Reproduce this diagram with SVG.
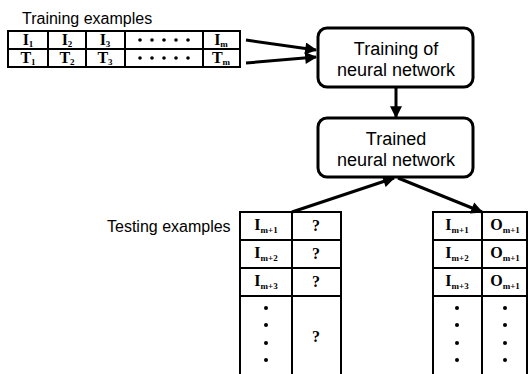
<svg xmlns="http://www.w3.org/2000/svg" width="529" height="374" viewBox="0 0 529 374">
<style>
.lbl{font-family:"Liberation Sans",Arial,sans-serif;font-size:16px;fill:#000}
.box{fill:#fff;stroke:#000;stroke-width:3}
.bt{font-family:"Liberation Sans",Arial,sans-serif;font-size:18px;fill:#000;text-anchor:middle}
.grid{fill:none;stroke:#000;stroke-width:2}
.cell{font-family:"Liberation Serif","Times New Roman",serif;font-weight:bold;font-size:16px;fill:#000;text-anchor:middle}
.sub{font-size:9px}
.dot{fill:#000}
.conn{stroke:#000;stroke-width:3;fill:none;marker-end:url(#ah)}
</style>
<defs>
<marker id="ah" viewBox="0 0 10 10" refX="9" refY="5" markerWidth="4.5" markerHeight="4" orient="auto" markerUnits="strokeWidth">
<path d="M0,0 L10,5 L0,10 z" fill="#000"/>
</marker>
</defs>
<rect width="529" height="374" fill="#fff"/>

<g id="training-examples">
<text class="lbl" x="22" y="24">Training examples</text>
<rect class="grid" x="8" y="31" width="232" height="36"/>
<line class="grid" x1="8" y1="49" x2="240" y2="49"/>
<line class="grid" x1="48" y1="31" x2="48" y2="67"/>
<line class="grid" x1="86" y1="31" x2="86" y2="67"/>
<line class="grid" x1="125" y1="31" x2="125" y2="67"/>
<line class="grid" x1="203" y1="31" x2="203" y2="67"/>
<text class="cell" x="28" y="45">I<tspan class="sub" dy="2">1</tspan></text>
<text class="cell" x="67" y="45">I<tspan class="sub" dy="2">2</tspan></text>
<text class="cell" x="105" y="45">I<tspan class="sub" dy="2">3</tspan></text>
<text class="cell" x="221" y="45">I<tspan class="sub" dy="2">m</tspan></text>
<text class="cell" x="28" y="63">T<tspan class="sub" dy="2">1</tspan></text>
<text class="cell" x="67" y="63">T<tspan class="sub" dy="2">2</tspan></text>
<text class="cell" x="105" y="63">T<tspan class="sub" dy="2">3</tspan></text>
<text class="cell" x="221" y="63">T<tspan class="sub" dy="2">m</tspan></text>
<g class="dot">
<circle cx="140" cy="40" r="1.8"/><circle cx="152" cy="40" r="1.8"/><circle cx="164" cy="40" r="1.8"/><circle cx="176" cy="40" r="1.8"/><circle cx="188" cy="40" r="1.8"/>
<circle cx="140" cy="58" r="1.8"/><circle cx="152" cy="58" r="1.8"/><circle cx="164" cy="58" r="1.8"/><circle cx="176" cy="58" r="1.8"/><circle cx="188" cy="58" r="1.8"/>
</g>
</g>

<g id="training-node">
<rect class="box" x="318" y="28" width="155" height="59" rx="9"/>
<text class="bt" x="396" y="55">Training of</text>
<text class="bt" x="396" y="76">neural network</text>
</g>

<g id="trained-node">
<rect class="box" x="318" y="118" width="155" height="59" rx="9"/>
<text class="bt" x="396" y="145">Trained</text>
<text class="bt" x="396" y="166">neural network</text>
</g>

<g id="testing-examples">
<text class="lbl" x="107" y="232">Testing examples</text>
<polyline class="grid" points="240,374 240,212 341,212 341,374"/>
<line class="grid" x1="292" y1="212" x2="292" y2="374"/>
<line class="grid" x1="240" y1="240" x2="341" y2="240"/>
<line class="grid" x1="240" y1="268" x2="341" y2="268"/>
<line class="grid" x1="240" y1="296" x2="341" y2="296"/>
<text class="cell" x="266" y="230">I<tspan class="sub" dy="3">m+1</tspan></text>
<text class="cell" x="266" y="258">I<tspan class="sub" dy="3">m+2</tspan></text>
<text class="cell" x="266" y="286">I<tspan class="sub" dy="3">m+3</tspan></text>
<text class="cell" x="316" y="231">?</text>
<text class="cell" x="316" y="259">?</text>
<text class="cell" x="316" y="287">?</text>
<text class="cell" x="316" y="342">?</text>
<g class="dot">
<circle cx="266" cy="308" r="2"/><circle cx="266" cy="325" r="2"/><circle cx="266" cy="343" r="2"/><circle cx="266" cy="360" r="2"/>
</g>
</g>

<g id="results">
<polyline class="grid" points="433,374 433,212 527,212 527,374"/>
<line class="grid" x1="482" y1="212" x2="482" y2="374"/>
<line class="grid" x1="433" y1="240" x2="527" y2="240"/>
<line class="grid" x1="433" y1="268" x2="527" y2="268"/>
<line class="grid" x1="433" y1="296" x2="527" y2="296"/>
<text class="cell" x="457" y="230">I<tspan class="sub" dy="3">m+1</tspan></text>
<text class="cell" x="457" y="258">I<tspan class="sub" dy="3">m+2</tspan></text>
<text class="cell" x="457" y="286">I<tspan class="sub" dy="3">m+3</tspan></text>
<text class="cell" x="505" y="230">O<tspan class="sub" dy="3">m+1</tspan></text>
<text class="cell" x="505" y="258">O<tspan class="sub" dy="3">m+1</tspan></text>
<text class="cell" x="505" y="286">O<tspan class="sub" dy="3">m+1</tspan></text>
<g class="dot">
<circle cx="457" cy="308" r="2"/><circle cx="457" cy="325" r="2"/><circle cx="457" cy="343" r="2"/><circle cx="457" cy="360" r="2"/>
<circle cx="505" cy="308" r="2"/><circle cx="505" cy="325" r="2"/><circle cx="505" cy="343" r="2"/><circle cx="505" cy="360" r="2"/>
</g>
</g>

<g id="connectors">
<line class="conn" x1="246" y1="40" x2="316" y2="50"/>
<line class="conn" x1="246" y1="63" x2="316" y2="57"/>
<line class="conn" x1="396" y1="87" x2="396" y2="117"/>
<line class="conn" x1="292" y1="212" x2="394" y2="178"/>
<line class="conn" x1="398" y1="178" x2="482" y2="212"/>
</g>
</svg>
